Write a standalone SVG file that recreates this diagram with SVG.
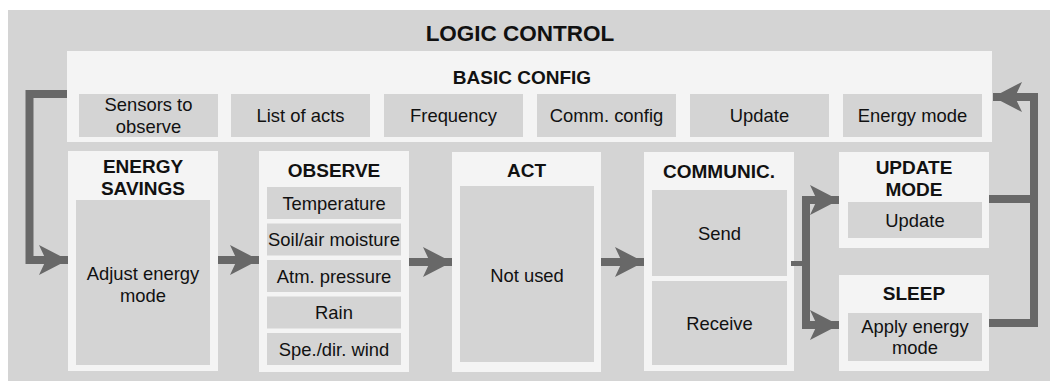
<svg xmlns="http://www.w3.org/2000/svg" width="1050" height="381" viewBox="0 0 1050 381">
<style>
.bg{fill:#d4d4d4}
.box{fill:#f4f4f4}
.in{fill:#d4d4d4}
text{font-family:"Liberation Sans",Arial,sans-serif;fill:#111;text-anchor:middle}
.t{font-size:18.4px}
.h{font-size:19px;font-weight:bold}
.title{font-size:22.5px;font-weight:bold}
.conn{fill:none;stroke:#686868;stroke-width:8;stroke-linejoin:miter}
</style>
<defs>
<marker id="ah" markerUnits="userSpaceOnUse" markerWidth="32" markerHeight="32" refX="29" refY="15" orient="auto">
<path d="M0,0 L29,15 L0,30 L7,15 Z" fill="#686868"/>
</marker>
</defs>
<rect class="bg" x="8" y="10" width="1042" height="371"/>
<text class="title" x="520" y="41">LOGIC CONTROL</text>

<g id="basic-config">
<rect class="box" x="67" y="51" width="925" height="91"/>
<text class="h" x="522" y="84">BASIC CONFIG</text>
<rect class="in" x="79" y="94" width="139" height="43"/>
<text class="t" x="148.5" y="111">Sensors to</text>
<text class="t" x="148.5" y="133">observe</text>
<rect class="in" x="231" y="94" width="139" height="43"/>
<text class="t" x="300.5" y="122">List of acts</text>
<rect class="in" x="384" y="94" width="139" height="43"/>
<text class="t" x="453.5" y="122">Frequency</text>
<rect class="in" x="537" y="94" width="139" height="43"/>
<text class="t" x="606.5" y="122">Comm. config</text>
<rect class="in" x="690" y="94" width="139" height="43"/>
<text class="t" x="759.5" y="122">Update</text>
<rect class="in" x="843" y="94" width="139" height="43"/>
<text class="t" x="912.5" y="122">Energy mode</text>
</g>

<g id="energy-savings">
<rect class="box" x="68" y="151" width="150" height="220"/>
<text class="h" x="143" y="173">ENERGY</text>
<text class="h" x="143" y="195">SAVINGS</text>
<rect class="in" x="76" y="200" width="134" height="165"/>
<text class="t" x="143" y="280">Adjust energy</text>
<text class="t" x="143" y="302">mode</text>
</g>

<g id="observe">
<rect class="box" x="259" y="151" width="150" height="221"/>
<text class="h" x="334" y="177">OBSERVE</text>
<rect class="in" x="267" y="187" width="134" height="32"/>
<text class="t" x="334" y="209.5">Temperature</text>
<rect class="in" x="267" y="223.5" width="134" height="32"/>
<text class="t" x="334" y="246">Soil/air moisture</text>
<rect class="in" x="267" y="260" width="134" height="32"/>
<text class="t" x="334" y="282.5">Atm. pressure</text>
<rect class="in" x="267" y="296.5" width="134" height="32"/>
<text class="t" x="334" y="319">Rain</text>
<rect class="in" x="267" y="333" width="134" height="32"/>
<text class="t" x="334" y="355.5">Spe./dir. wind</text>
</g>

<g id="act">
<rect class="box" x="452" y="152" width="149" height="220"/>
<text class="h" x="526.5" y="177">ACT</text>
<rect class="in" x="460" y="186" width="134" height="176"/>
<text class="t" x="527" y="281.5">Not used</text>
</g>

<g id="communic">
<rect class="box" x="644" y="152" width="150" height="219"/>
<text class="h" x="719" y="178">COMMUNIC.</text>
<rect class="in" x="652" y="190" width="135" height="86"/>
<text class="t" x="719.5" y="240">Send</text>
<rect class="in" x="652" y="281" width="135" height="84"/>
<text class="t" x="719.5" y="329.5">Receive</text>
</g>

<g id="update-mode">
<rect class="box" x="839" y="152" width="150" height="96"/>
<text class="h" x="914" y="174">UPDATE</text>
<text class="h" x="914" y="196">MODE</text>
<rect class="in" x="848" y="202" width="134" height="36"/>
<text class="t" x="915" y="226.5">Update</text>
</g>

<g id="sleep">
<rect class="box" x="839" y="275" width="150" height="96"/>
<text class="h" x="914" y="300">SLEEP</text>
<rect class="in" x="848" y="313" width="134" height="48"/>
<text class="t" x="915" y="333">Apply energy</text>
<text class="t" x="915" y="354">mode</text>
</g>

<g id="connectors">
<polyline class="conn" points="67,94 29.5,94 29.5,260 68,260" marker-end="url(#ah)"/>
<line class="conn" x1="218" y1="260" x2="259" y2="260" marker-end="url(#ah)"/>
<line class="conn" x1="409" y1="262" x2="452" y2="262" marker-end="url(#ah)"/>
<line class="conn" x1="601" y1="262" x2="644" y2="262" marker-end="url(#ah)"/>
<line class="conn" style="stroke-width:5" x1="791" y1="263.5" x2="806" y2="263.5"/>
<polyline class="conn" points="806,264 806,200 839,200" marker-end="url(#ah)"/>
<polyline class="conn" points="806,263 806,325 839,325" marker-end="url(#ah)"/>
<line class="conn" x1="989" y1="199" x2="1034" y2="199"/>
<polyline class="conn" points="989,323 1034,323 1034,97 993,97" marker-end="url(#ah)"/>
</g>
</svg>
